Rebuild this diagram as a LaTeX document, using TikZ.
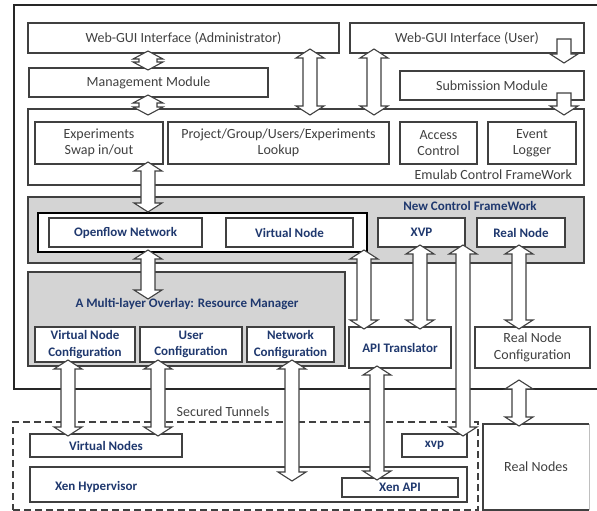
\documentclass[tikz,border=0pt]{standalone}
\usepackage{fontspec}
\setmainfont{Carlito}
\usetikzlibrary{calc}
\definecolor{navy}{RGB}{31,56,110}
\definecolor{ink}{RGB}{64,64,64}
\definecolor{panelgray}{RGB}{212,212,212}
\newcommand\txtN{\fontsize{14}{16.5}\selectfont}
\newcommand\txtB{\fontsize{13}{16.5}\selectfont\bfseries}
\def\arS{7pt}\def\arH{14pt}\def\arL{9pt}\def\arE{2pt}
\begin{document}
\begin{tikzpicture}[x=1pt,y=-1pt,
  every node/.style={inner sep=0pt,outer sep=0pt},
  box/.style={draw=ink,line width=1.2pt,fill=white,anchor=north west,align=center,text=ink,font=\txtN},
  bbox/.style={box,text=navy,font=\txtB},
  panel/.style={draw=ink,line width=1.2pt,fill=panelgray,anchor=north west},
  lbl/.style={text=ink,font=\txtN},
  blbl/.style={text=navy,font=\txtB},
  wide/.code={\def\arS{9pt}\def\arH{15pt}\def\arL{8pt}},
  dbl/.style={draw=ink,fill=white,line width=1.1pt,line join=miter,
    to path={let \p1=(\tikztostart),\p2=(\tikztotarget) in
      (\x1,\y1+\arE) -- (\x1+\arH,\y1+\arE-\arL) -- (\x1+\arS,\y1+\arE-\arL)
      -- (\x1+\arS,\y2-\arE+\arL) -- (\x1+\arH,\y2-\arE+\arL) -- (\x1,\y2-\arE)
      -- (\x1-\arH,\y2-\arE+\arL) -- (\x1-\arS,\y2-\arE+\arL)
      -- (\x1-\arS,\y1+\arE-\arL) -- (\x1-\arH,\y1+\arE-\arL) -- cycle}},
  sgl/.style={draw=ink,fill=white,line width=1.1pt,line join=miter,
    to path={let \p1=(\tikztostart),\p2=(\tikztotarget) in
      (\x1-\arS,\y1) -- (\x1+\arS,\y1) -- (\x1+\arS,\y2+\arL) -- (\x1+\arH,\y2+\arL)
      -- (\x1,\y2) -- (\x1-\arH,\y2+\arL) -- (\x1-\arS,\y2+\arL) -- cycle}}
]
\useasboundingbox (0,0) rectangle (597,511);
\clip (0,0) rectangle (597,511);
\fill[white] (0,0) rectangle (597,511);

% outer frame
\node[draw=black!85,line width=1.8pt,anchor=north west,minimum width=600pt,minimum height=384pt] (outer) at (14,5) {};

% top row
\node[box,minimum width=311pt,minimum height=30pt] (admin) at (28,23) {Web-GUI Interface (Administrator)};
\node[box,minimum width=234pt,minimum height=30pt] (user) at (350,23) {Web-GUI Interface (User)};
\node[box,minimum width=239pt,minimum height=29pt] (mgmt) at (29,68) {Management Module};
\node[box,minimum width=184pt,minimum height=29pt] (subm) at (400,71) {Submission Module};

% Emulab control framework
\node[box,minimum width=556pt,minimum height=76pt] (emulab) at (28,109) {};
\node[box,minimum width=128pt,minimum height=42pt] (exp) at (35,122) {Experiments\\Swap in/out};
\node[box,minimum width=221pt,minimum height=42pt] (lookup) at (168,122) {Project/Group/Users/Experiments\\Lookup};
\node[box,minimum width=77pt,minimum height=42pt] (access) at (400,122) {Access\\Control};
\node[box,minimum width=88pt,minimum height=42pt] (event) at (488,122) {Event\\Logger};
\node[lbl,anchor=east] (emulabl) at (572,175) {Emulab Control FrameWork};

% New control framework
\node[panel,minimum width=556pt,minimum height=66pt] (newcf) at (28,197) {};
\node[blbl] (newcfl) at (470,206) {New Control FrameWork};
\node[draw=black,line width=2.2pt,fill=white,anchor=north west,minimum width=329pt,minimum height=39pt] (blk) at (38,213) {};
\node[bbox,minimum width=153pt,minimum height=29pt] (openflow) at (49,218) {Openflow Network};
\node[bbox,minimum width=127pt,minimum height=29pt] (vnode) at (226,218) {Virtual Node};
\node[bbox,minimum width=87pt,minimum height=29pt] (xvp) at (378,218) {XVP};
\node[bbox,minimum width=88pt,minimum height=29pt] (realnode) at (477,218) {Real Node};

% Resource manager
\node[panel,minimum width=317pt,minimum height=94pt] (rm) at (28,272) {};
\node[blbl] (rml) at (187,304) {A Multi-layer Overlay: Resource Manager};
\node[bbox,minimum width=100pt,minimum height=35pt] (vnconf) at (35,327) {Virtual Node\\Configuration};
\node[bbox,minimum width=102pt,minimum height=35pt] (userconf) at (140,327) {User\\Configuration};
\node[bbox,minimum width=87pt,minimum height=35pt] (netconf) at (247,327) {Network\\Configuration};
\node[bbox,minimum width=102pt,minimum height=41pt] (api) at (349,327) {API Translator};
\node[box,minimum width=115pt,minimum height=41pt] (rnconf) at (475,327) {Real Node\\Configuration};

% bottom: secured tunnels
\node[lbl] (sec) at (223,412) {Secured Tunnels};
\node[draw=ink,line width=1.3pt,dash pattern=on 7pt off 4pt,anchor=north west,minimum width=465pt,minimum height=88pt] (dash) at (13,422) {};
\node[bbox,minimum width=152pt,minimum height=23pt] (vnodes) at (30,434) {Virtual Nodes};
\node[box,minimum width=437pt,minimum height=35pt] (xen) at (30,467) {};
\node[blbl,anchor=west] (xenl) at (55,487) {Xen Hypervisor};
\node[bbox,minimum width=65pt,minimum height=23pt] (xvpb) at (402,434) {xvp};
\node[bbox,minimum width=116pt,minimum height=19pt] (xenapi) at (342,478) {Xen API};
\node[lbl,anchor=north west,minimum width=106pt,minimum height=86pt] (realnodes) at (483,424) {Real Nodes};
\draw[ink,line width=1.2pt] (realnodes.north east) -- (realnodes.north west) -- (realnodes.south west) -- (realnodes.south east);
\draw[black!25,line width=1pt] (realnodes.north east) -- (realnodes.south east);

% free-end coordinates
\coordinate (a7b) at (148,210);
\coordinate (a8b) at (148,297);
\coordinate (a13t) at (519,382);
\coordinate (a16b) at (292,479);
\coordinate (s1a) at (564,39);
\coordinate (s1b) at (564,63);
\coordinate (s2a) at (564,93);
\coordinate (s2b) at (564,115);
\coordinate (a2b) at (148,113);
\coordinate (a3t) at (310,51);
\coordinate (a3b) at (310,113);
\coordinate (a4t) at (374,51);
\coordinate (a4b) at (374,113);

% arrows
\draw[dbl,wide] (148,0 |- admin.south) to (148,0 |- mgmt.north);
\draw[dbl,wide] (148,0 |- mgmt.south) to (a2b);
\draw[dbl] (a3t) to (a3b);
\draw[dbl] (a4t) to (a4b);
\draw[sgl] (s1a) to (s1b);
\draw[sgl] (s2a) to (s2b);
\draw[dbl] (148,0 |- exp.south) to (a7b);
\draw[dbl] (148,0 |- blk.south) to (a8b);
\draw[dbl] (364,0 |- blk.south) to (364,0 |- api.north);
\draw[dbl] (420,0 |- xvp.south) to (420,0 |- api.north);
\draw[dbl] (463,0 |- xvp.south) to (463,0 |- xvpb.north);
\draw[dbl] (519,0 |- realnode.south) to (519,0 |- rnconf.north);
\draw[dbl] (a13t) to (519,0 |- realnodes.north);
\draw[dbl] (68,0 |- vnconf.south) to (68,0 |- vnodes.north);
\draw[dbl] (158,0 |- userconf.south) to (158,0 |- vnodes.north);
\draw[dbl] (292,0 |- netconf.south) to (a16b);
\draw[dbl] (377,0 |- api.south) to (377,0 |- xenapi.north);
\end{tikzpicture}
\end{document}
